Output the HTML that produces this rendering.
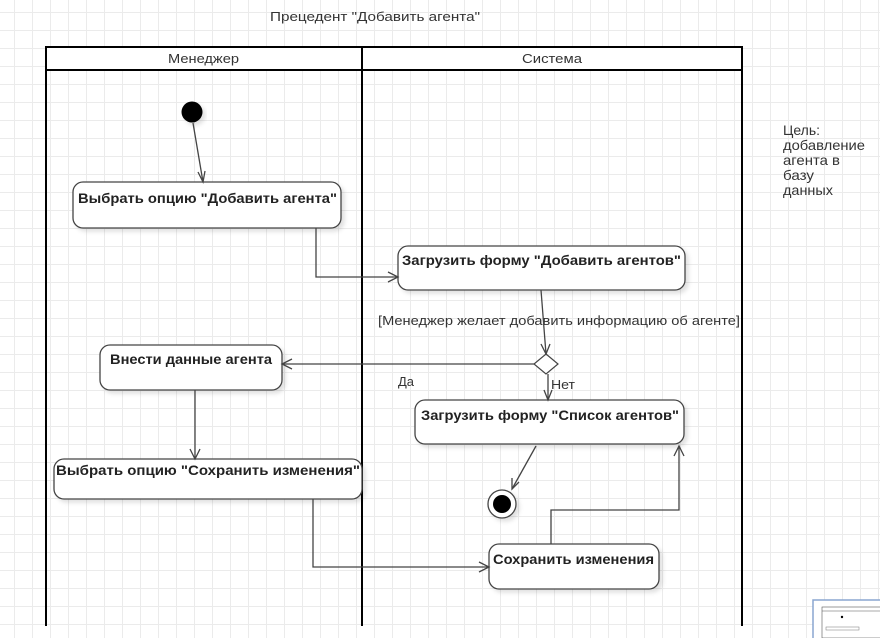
<!DOCTYPE html>
<html><head><meta charset="utf-8"><style>
body{margin:0;width:880px;height:638px;overflow:hidden;background:#fff;
background-image:linear-gradient(to right,#ebebeb 1px,transparent 1px),linear-gradient(to bottom,#ebebeb 1px,transparent 1px);
background-size:18px 18px;background-position:14px 12px;font-family:"Liberation Sans",sans-serif}
svg{position:absolute;left:0;top:0}
</style></head><body>
<svg width="880" height="638" viewBox="0 0 880 638" font-family="Liberation Sans, sans-serif">
<defs><filter id="sh" x="-10%" y="-10%" width="130%" height="140%"><feDropShadow dx="3" dy="3" stdDeviation="2" flood-color="#000" flood-opacity="0.12"/></filter></defs>
<text x="270" y="21" font-size="13" fill="#333" textLength="210" lengthAdjust="spacingAndGlyphs">Прецедент "Добавить агента"</text>
<g stroke="#000" stroke-width="2" fill="none">
<rect x="46" y="47" width="696" height="23" fill="#fff"/>
<line x1="46" y1="47" x2="46" y2="626"/><line x1="362" y1="47" x2="362" y2="626"/><line x1="742" y1="47" x2="742" y2="626"/>
</g>
<text x="168" y="63" font-size="13" fill="#333" textLength="71" lengthAdjust="spacingAndGlyphs">Менеджер</text>
<text x="522" y="63" font-size="13" fill="#333" textLength="60" lengthAdjust="spacingAndGlyphs">Система</text>
<g font-size="14" fill="#333">
<text x="783" y="135" textLength="37" lengthAdjust="spacingAndGlyphs">Цель:</text>
<text x="783" y="150" textLength="82" lengthAdjust="spacingAndGlyphs">добавление</text>
<text x="783" y="165" textLength="57" lengthAdjust="spacingAndGlyphs">агента в</text>
<text x="783" y="180" textLength="31" lengthAdjust="spacingAndGlyphs">базу</text>
<text x="783" y="195" textLength="50" lengthAdjust="spacingAndGlyphs">данных</text>
</g>
<circle cx="192" cy="112" r="10.5" fill="#000" filter="url(#sh)"/>
<g fill="#fff" stroke="#444" stroke-width="1.3" filter="url(#sh)">
<rect x="73" y="182" width="268" height="46" rx="10"/>
<rect x="398" y="246" width="287" height="44" rx="10"/>
<rect x="100" y="345" width="182" height="45" rx="10"/>
<rect x="415" y="400" width="269" height="44" rx="10"/>
<rect x="54" y="459" width="308" height="40" rx="10"/>
<rect x="489" y="544" width="170" height="45" rx="10"/>
<circle cx="502" cy="504" r="14"/>
</g>
<circle cx="502" cy="504" r="9" fill="#000"/>
<polygon points="546,354 558,364 546,374 534,364" fill="#fff" stroke="#444" stroke-width="1.2"/>
<g font-size="14" font-weight="bold" fill="#222">
<text x="78" y="203" textLength="259" lengthAdjust="spacingAndGlyphs">Выбрать опцию "Добавить агента"</text>
<text x="402" y="265" textLength="279" lengthAdjust="spacingAndGlyphs">Загрузить форму "Добавить агентов"</text>
<text x="110" y="364" textLength="162" lengthAdjust="spacingAndGlyphs">Внести данные агента</text>
<text x="421" y="420" textLength="258" lengthAdjust="spacingAndGlyphs">Загрузить форму "Список агентов"</text>
<text x="56" y="475" textLength="304" lengthAdjust="spacingAndGlyphs">Выбрать опцию "Сохранить изменения"</text>
<text x="493" y="564" textLength="161" lengthAdjust="spacingAndGlyphs">Сохранить изменения</text>
</g>
<g font-size="13" fill="#333">
<text x="378" y="325" textLength="362" lengthAdjust="spacingAndGlyphs">[Менеджер желает добавить информацию об агенте]</text>
<text x="398" y="386" textLength="16" lengthAdjust="spacingAndGlyphs">Да</text>
<text x="551" y="389" textLength="24" lengthAdjust="spacingAndGlyphs">Нет</text>
</g>
<g stroke="#444" stroke-width="1.3" fill="none">
<line x1="193" y1="123" x2="203" y2="182"/><polyline points="198,172 203,182 205,171"/>
<polyline points="316,228 316,277 398,277"/><polyline points="388,272 398,277 388,282"/>
<line x1="541" y1="290" x2="546" y2="354"/><polyline points="541,344 546,354 550,344"/>
<line x1="534" y1="364" x2="282" y2="364"/><polyline points="292,359 282,364 292,369"/>
<line x1="548" y1="374" x2="548" y2="400"/><polyline points="544,390 548,400 552,390"/>
<line x1="195" y1="390" x2="195" y2="459"/><polyline points="190,449 195,459 200,449"/>
<polyline points="313,499 313,567 489,567"/><polyline points="479,562 489,567 479,572"/>
<line x1="536" y1="446" x2="512" y2="489"/><polyline points="512,478 512,489 519,482"/>
<polyline points="551,544 551,510 679,510 679,446"/><polyline points="674,456 679,446 684,456"/>
</g>
<rect x="813" y="600" width="70" height="40" fill="#fff" stroke="#8aa6d0" stroke-width="1.5"/>
<rect x="822" y="607" width="60" height="31" fill="none" stroke="#555" stroke-width="0.6"/>
<line x1="822" y1="611" x2="880" y2="611" stroke="#555" stroke-width="0.6"/>
<circle cx="842" cy="617" r="1.2" fill="#000"/>
<rect x="826" y="627" width="33" height="3" fill="none" stroke="#777" stroke-width="0.5"/>
</svg>
</body></html>
